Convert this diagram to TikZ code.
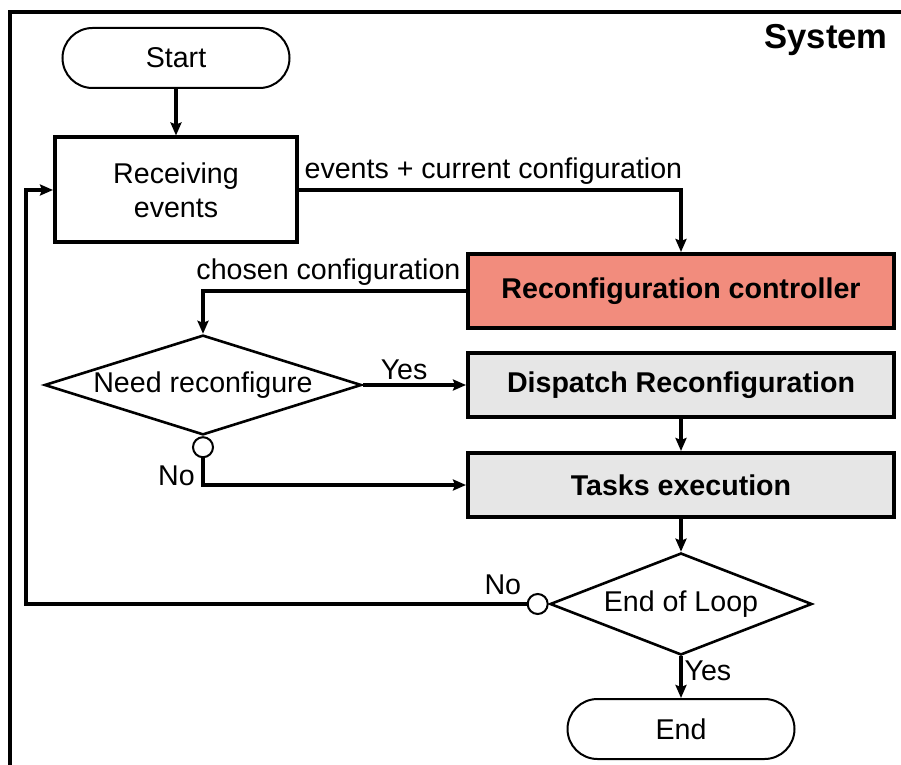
\documentclass[tikz,border=0pt]{standalone}
\usepackage{fontspec}
\setmainfont{Liberation Sans}
\usetikzlibrary{shapes.geometric,arrows.meta,positioning}

\begin{document}
\begin{tikzpicture}[x=0.5pt, y=-0.5pt, font=\fontsize{14.3}{17}\selectfont,
    terminal/.style={draw, line width=1pt, rounded corners=15pt, minimum width=113.5pt, minimum height=30pt},
    stepbox/.style={draw, line width=2pt, minimum width=213pt, minimum height=32pt, font=\fontsize{14.3}{17}\selectfont\bfseries},
    decide/.style={draw, diamond, line width=1.3pt, inner sep=0pt, aspect=3},
    nocirc/.style={draw, circle, line width=1pt, fill=white, minimum size=10pt, inner sep=0pt},
    conn/.style={line width=1.6pt, -{Stealth[length=6.5pt, width=5.5pt, inset=1pt]}},
    lbl/.style={inner sep=2pt}]
    \definecolor{ctrlcolor}{RGB}{242,140,125}
    \definecolor{taskcolor}{RGB}{230,230,230}

    \useasboundingbox (0, 0) rectangle (901, 765);
    \draw[line width=2pt] (901, 12) -- (10, 12) -- (10, 765); % system frame
    \node[font=\fontsize{17.3}{20}\selectfont\bfseries] (sys) at (826, 40) {System};

    \node[terminal] (start) at (176, 58) {Start};
    \node[draw, line width=2pt, minimum width=121pt, minimum height=52.5pt, align=center] (recv) at (176, 190) {Receiving\\events};
    \node[stepbox, fill=ctrlcolor, minimum height=37pt] (ctrl) at (681, 291) {Reconfiguration controller};
    \node[decide, minimum width=158.5pt, minimum height=48.5pt] (needrc) at (203, 385) {Need reconfigure};
    \node[stepbox, fill=taskcolor] (dispatch) at (681, 385) {Dispatch Reconfiguration};
    \node[stepbox, fill=taskcolor] (tasks) at (681, 485) {Tasks execution};
    \node[decide, minimum width=131pt, minimum height=51pt] (endloop) at (681, 604) {End of Loop};
    \node[terminal] (finish) at (681, 729) {End};
    \node[nocirc, below=0pt of needrc] (noA) {};
    \node[nocirc, left=0pt of endloop] (noB) {};

    \draw[conn] (start) -- (recv);
    \draw[conn] (recv.east) -| node[lbl, above right, pos=0] (lblev) {events + current configuration} (ctrl.north);
    \draw[conn] (ctrl.west) -| node[lbl, above left, pos=0] (lblch) {chosen configuration} (needrc.north);
    \draw[conn] (needrc.east) -- node[lbl, above, pos=0.4] (lblyesA) {Yes} (dispatch.west);
    \draw[conn] (dispatch) -- (tasks);
    \draw[conn] (noA.south) |- node[pos=0.5, anchor=base east] (lblnoA) {No} (tasks.west);
    \draw[conn] (tasks) -- (endloop);
    \draw[conn] (noB.west) -| node[pos=0, anchor=base east, inner sep=2pt, yshift=5pt] (lblnoB) {No} ([xshift=-13.5pt]recv.west) -- (recv.west); % loop back
    \draw[conn] (endloop) -- node[pos=0.58, anchor=base west, inner sep=1pt] (lblyesB) {Yes} (finish);
\end{tikzpicture}
\end{document}
